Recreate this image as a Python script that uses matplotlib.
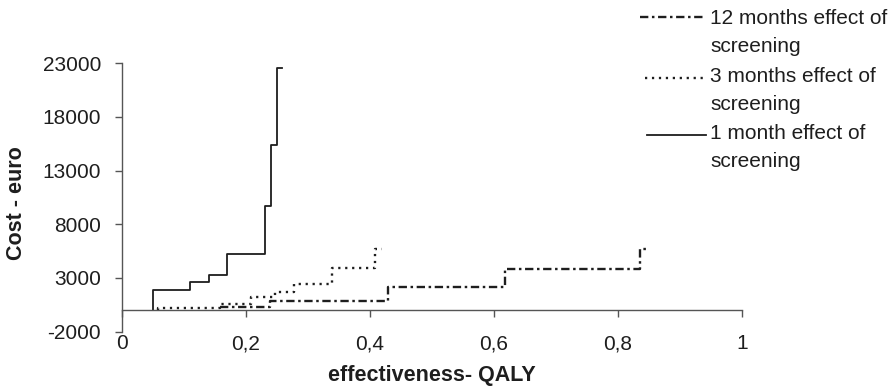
import matplotlib
matplotlib.use("Agg")
import matplotlib.pyplot as plt
from matplotlib.lines import Line2D

plt.rcParams['font.family'] = ['Liberation Sans', 'DejaVu Sans']
plt.rcParams['lines.scale_dashes'] = False

# ---- data (effectiveness QALY, cost euro), step curves ----
x_1m = [0.05, 0.05, 0.11, 0.141, 0.17, 0.231, 0.240, 0.251, 0.259]
y_1m = [0, 1860, 2640, 3230, 5190, 9720, 15380, 22525, 22525]

x_3m = [0.059, 0.059, 0.158, 0.209, 0.247, 0.277, 0.339, 0.408, 0.42]
y_3m = [0, 150, 560, 1240, 1650, 2400, 3940, 5680, 5680]

x_12m = [0.158, 0.239, 0.43, 0.618, 0.836, 0.849]
y_12m = [300, 870, 2170, 3790, 5680, 5680]

x_ticks = [0, 0.2, 0.4, 0.6, 0.8, 1]
x_tick_labels = ['0', '0,2', '0,4', '0,6', '0,8', '1']
y_ticks = [-2000, 3000, 8000, 13000, 18000, 23000]

labels = ['12 months effect of\nscreening', '3 months effect of\nscreening',
          '1 month effect of\nscreening']

W, H = 896, 388
fig = plt.figure(figsize=(W / 100, H / 100), dpi=100)
ax = fig.add_axes([121.7 / W, 1 - 331.5 / H, (742 - 121.7) / W, (331.5 - 63.3) / H])

line_col = '#1e1e1e'
axis_col = '#555555'
txt_col = '#1e1e1e'
fs = 15
fs_lab = 15.5

dash_12 = (0, (6.0, 2.6, 1.8, 2.6))
dot_3 = (0, (1.6, 3.4))

ax.step(x_12m, y_12m, where='post', color=line_col, lw=1.7, linestyle=dash_12)
ax.step(x_3m, y_3m, where='post', color=line_col, lw=1.7, linestyle=dot_3)
ax.step(x_1m, y_1m, where='post', color=line_col, lw=1.3, linestyle='-')

ax.set_xlim(0, 1)
ax.set_ylim(-2000, 23000)
for s in ['top', 'right']:
    ax.spines[s].set_visible(False)
ax.spines['bottom'].set_position(('data', 0))
for s in ['left', 'bottom']:
    ax.spines[s].set_color(axis_col)
    ax.spines[s].set_linewidth(1.0)

ax.set_xticks(x_ticks)
ax.set_xticklabels(x_tick_labels)
ax.set_yticks(y_ticks)
ax.set_yticklabels([str(v) for v in y_ticks])
ax.tick_params(axis='x', direction='out', length=5, width=1.0, color=axis_col,
               pad=12.5, labelsize=fs, labelcolor=txt_col)
ax.tick_params(axis='y', direction='out', length=4.8, width=1.0, color=axis_col,
               pad=10, labelsize=fs, labelcolor=txt_col)

fig.text(431.7 / W, 1 - 376 / H, 'effectiveness- QALY', ha='center', va='center',
         fontsize=fs_lab, fontweight='bold', color=txt_col)
fig.text(17 / W, 1 - 203 / H, 'Cost - euro', ha='center', va='center', rotation=90,
         fontsize=fs_lab, fontweight='bold', color=txt_col)

# ---- legend (drawn manually to match layout) ----
styles = [dict(linestyle=dash_12, lw=1.7, x0=640), dict(linestyle=dot_3, lw=1.7, x0=645),
          dict(linestyle='-', lw=1.3, x0=647)]
handle_y = [17, 78, 135]
last_base_y = [52, 110, 167]
for lab, st, hy, by in zip(labels, styles, handle_y, last_base_y):
    x0 = st.pop('x0')
    fig.add_artist(Line2D([x0 / W, 706 / W], [1 - hy / H, 1 - hy / H],
                          transform=fig.transFigure, color=line_col, **st))
    fig.text(710 / W, 1 - by / H, lab, ha='left', va='baseline', fontsize=fs,
             color=txt_col, linespacing=1.6)

fig.savefig('out.png', dpi=100)
